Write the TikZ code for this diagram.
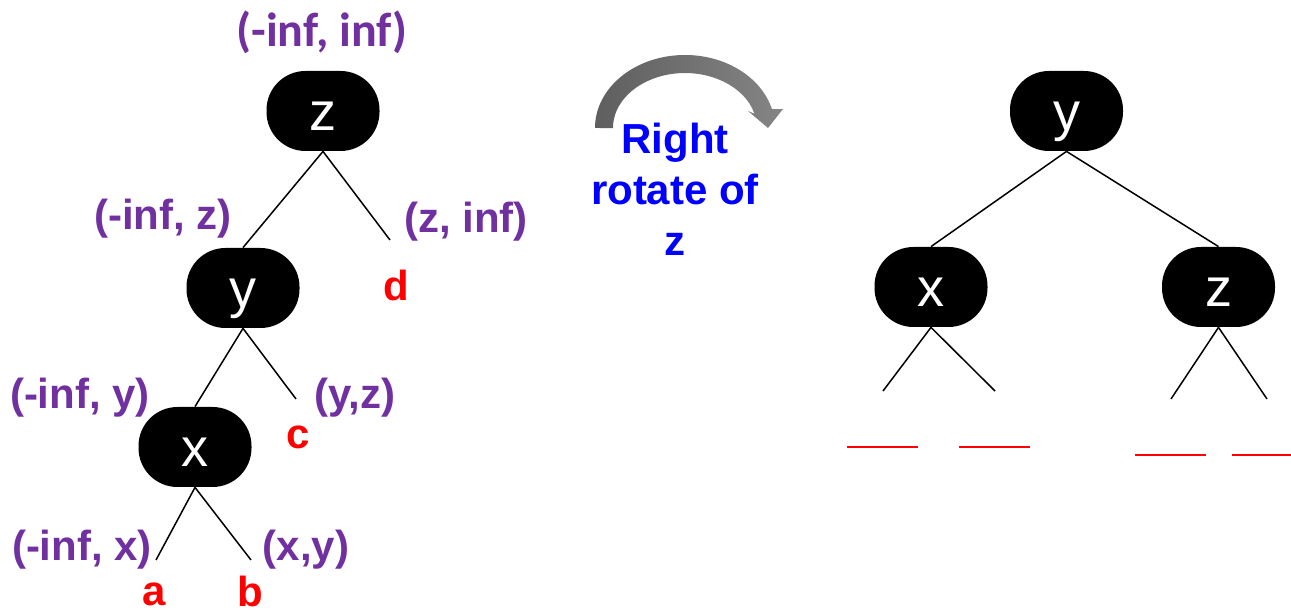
\documentclass[tikz,border=0pt]{standalone}
\usepackage{fontspec}
\setmainfont{Liberation Sans}
\newfontfamily\calfont{Carlito}
\usetikzlibrary{arrows.meta,positioning,calc}
\definecolor{bndpurple}{RGB}{112,48,160}
\definecolor{keyred}{RGB}{255,0,0}
\definecolor{rotblue}{RGB}{0,0,255}

\begin{document}
\begin{tikzpicture}[x=0.5pt,y=-0.5pt,
  keynode/.style={fill=black,rounded corners=19.5pt,minimum width=56.5pt,minimum height=40pt,
    inner sep=0pt,text=white,font=\fontsize{27}{27}\selectfont,text height=20pt,text depth=0pt},
  bound/.style={text=bndpurple,font=\bfseries\fontsize{21}{21}\selectfont,inner sep=0pt},
  leaf/.style={text=keyred,font=\bfseries\fontsize{21}{21}\selectfont,inner sep=0pt},
  treelink/.style={line width=0.75pt},
  blank/.style={draw=keyred,line width=1pt}]
  \useasboundingbox (0,0) rectangle (1291,613); % 全体の大きさ

  % 回転前の木
  \node[keynode] (zL) at (323,111) {z}; % 根 z
  \node[keynode] (yL) at (243,288) {y}; % 左の子 y
  \node[keynode] (xL) at (195,447) {x}; % y の左の子 x
  \coordinate (dEnd) at (390,240); % 部分木 d への枝の先
  \coordinate (cEnd) at (296,399); % 部分木 c への枝の先
  \coordinate (aEnd) at (156,560); % 部分木 a への枝の先
  \coordinate (bEnd) at (251,560); % 部分木 b への枝の先
  \draw[treelink] (zL.south) -- (yL.north);
  \draw[treelink] (zL.south) -- (dEnd);
  \draw[treelink] (yL.south) -- (xL.north);
  \draw[treelink] (yL.south) -- (cEnd);
  \draw[treelink] (xL.south) -- (aEnd);
  \draw[treelink] (xL.south) -- (bEnd);

  % 各部分木のとりうる範囲
  \node[bound,font=\calfont\bfseries\fontsize{24}{24}\selectfont] (rngRoot) at (322,32) {(-inf, inf)};
  \node[bound] (rngZl) at (163,219) {(-inf, z)};
  \node[bound] (rngZr) at (466,222) {(z, inf)};
  \node[bound] (rngYl) at (80,398) {(-inf, y)};
  \node[bound] (rngYr) at (355,398) {(y,z)};
  \node[bound] (rngXl) at (82,550) {(-inf, x)};
  \node[bound] (rngXr) at (306,550) {(x,y)};
  \node[leaf] (leafD) at (396,285) {d};
  \node[leaf] (leafC) at (298,437) {c};
  \node[leaf] (leafA) at (154,594) {a};
  \node[leaf] (leafB) at (250,591) {b};

  % 右回転を示す曲がった矢印
  \shade[left color=black!63,right color=black!48]
    (595,128) arc[start angle=180,end angle=345,x radius=90,y radius=73]
    -- (783,109) -- (768,128) -- (748,111) -- (754.5,113.8)
    arc[start angle=345,end angle=180,x radius=72,y radius=55] -- cycle;
  \node[text=rotblue,font=\bfseries\fontsize{21}{25.5}\selectfont,align=center,
    inner sep=0pt,anchor=north] (rotLbl) at (675,123) {Right\\rotate of\\z};

  % 回転後の木
  \node[keynode] (yR) at (1066.5,111) {y}; % 新しい根 y
  \node[keynode] (xR) at (931,287) {x};
  \node[keynode] (zR) at (1218.5,287) {z};
  \coordinate (xRl) at (883,391);
  \coordinate (xRr) at (995,391);
  \coordinate (zRl) at (1171,399);
  \coordinate (zRr) at (1267,399);
  \draw[treelink] (yR.south) -- (xR.north);
  \draw[treelink] (yR.south) -- (zR.north);
  \draw[treelink] (xR.south) -- (xRl);
  \draw[treelink] (xR.south) -- (xRr);
  \draw[treelink] (zR.south) -- (zRl);
  \draw[treelink] (zR.south) -- (zRr);
  \draw[blank] (847,447) -- (918,447); % 空欄
  \draw[blank] (959,447) -- (1030,447);
  \draw[blank] (1135,455) -- (1206,455);
  \draw[blank] (1232,455) -- (1291,455);
\end{tikzpicture}
\end{document}
